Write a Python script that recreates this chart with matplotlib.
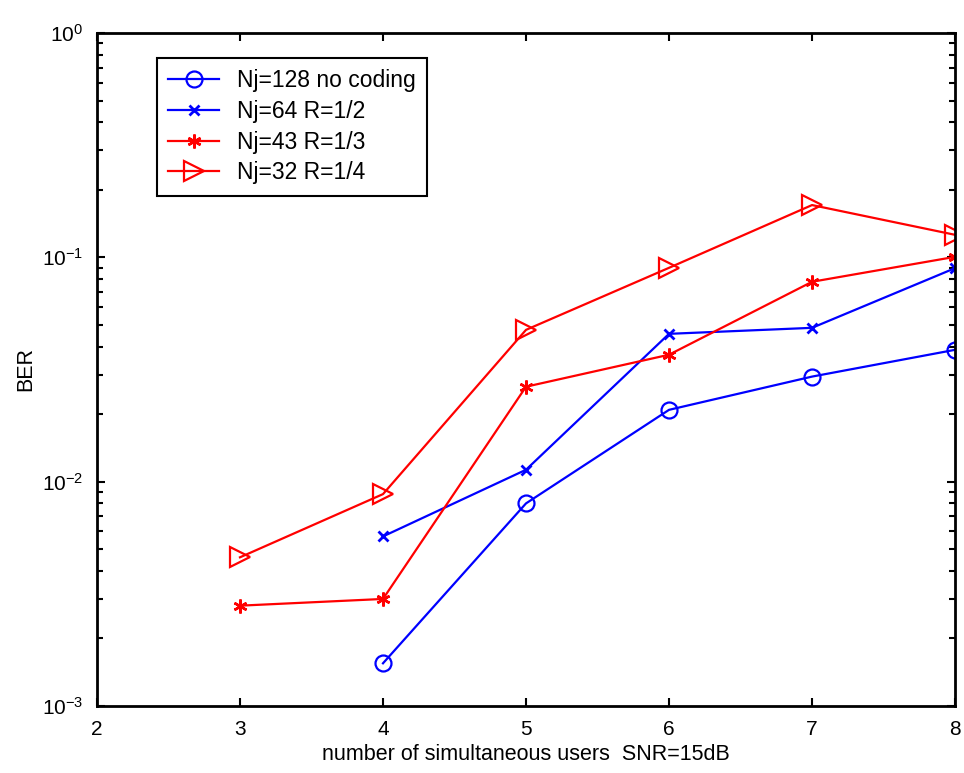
import matplotlib
matplotlib.use('Agg')
import matplotlib.pyplot as plt
from matplotlib.ticker import LogLocator

plt.rcParams['font.family'] = ['Liberation Sans', 'DejaVu Sans']
plt.rcParams['mathtext.fontset'] = 'custom'
plt.rcParams['mathtext.rm'] = 'Liberation Sans'
plt.rcParams['mathtext.it'] = 'Liberation Sans'
plt.rcParams['mathtext.default'] = 'regular'

# Data
users_128 = [4, 5, 6, 7, 8]
ber_128 = [1.55e-3, 8.0e-3, 0.0209, 0.0294, 0.0387]

users_64 = [4, 5, 6, 7, 8]
ber_64 = [5.7e-3, 0.0113, 0.0456, 0.0485, 0.0895]

users_43 = [3, 4, 5, 6, 7, 8]
ber_43 = [2.8e-3, 3.0e-3, 0.0265, 0.0368, 0.0778, 0.1005]

users_32 = [3, 4, 5, 6, 7, 8]
ber_32 = [4.6e-3, 8.8e-3, 0.0475, 0.0898, 0.171, 0.126]

labels = ['Nj=128 no coding', 'Nj=64 R=1/2', 'Nj=43 R=1/3', 'Nj=32 R=1/4']

fig = plt.figure(figsize=(9.64, 7.73), dpi=100)
ax = fig.add_axes([0.1006, 0.0867, 0.8901, 0.8706])

ax.plot(users_128, ber_128, color='blue', lw=1.6, marker='o', ms=11.5,
        mfc='none', mew=1.6, label=labels[0])
ax.plot(users_64, ber_64, color='blue', lw=1.6, marker='x', ms=7,
        mew=2, label=labels[1])
ax.plot(users_43, ber_43, color='red', lw=1.6, marker=(6, 2, 0), ms=10,
        mew=1.8, label=labels[2])
ax.plot(users_32, ber_32, color='red', lw=1.6, marker='>', ms=15,
        mfc='none', mew=1.6, label=labels[3])

ax.set_yscale('log')
ax.set_xlim(2, 8)
ax.set_ylim(1e-3, 1)
ax.set_xticks([2, 3, 4, 5, 6, 7, 8])
ax.yaxis.set_major_locator(LogLocator(base=10, numticks=10))
ax.yaxis.set_minor_locator(LogLocator(base=10, subs=range(2, 10), numticks=20))

ax.tick_params(which='both', direction='in', top=True, right=True,
               labelsize=15, width=1.5, pad=10)
ax.tick_params(which='major', length=6)
ax.tick_params(which='minor', length=4)
for sp in ax.spines.values():
    sp.set_linewidth(2)

ax.set_xlabel('number of simultaneous users  SNR=15dB', fontsize=15.5)
ax.set_ylabel('BER', fontsize=15.5, labelpad=4)

leg = ax.legend(loc='upper left', bbox_to_anchor=(0.0699, 0.9629),
                borderaxespad=0, fontsize=16.5, fancybox=False,
                framealpha=1, edgecolor='black', borderpad=0.5,
                handlelength=2.2, handletextpad=0.8, labelspacing=0.33)
leg.get_frame().set_linewidth(1.5)

fig.savefig('out.png', dpi=100)
